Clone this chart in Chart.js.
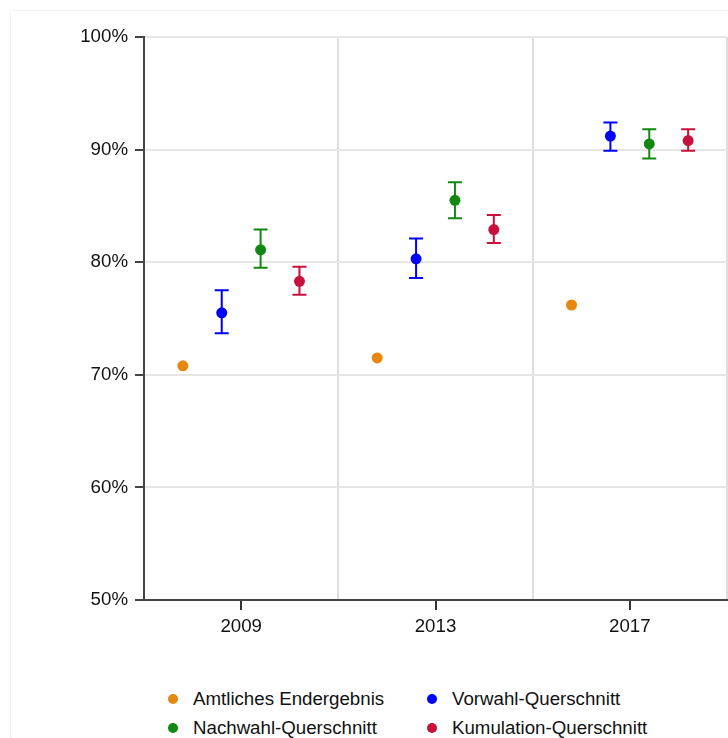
<!DOCTYPE html>
<html>
<head>
<meta charset="utf-8">
<script src="https://cdn.jsdelivr.net/npm/chart.js@4"></script>
<style>
  html, body { margin: 0; background: #fff; font-family: "Liberation Sans", Arial, sans-serif; overflow: hidden; width: 728px; height: 738px; }
  #frame { position: absolute; left: 10px; top: 10px; width: 740px; height: 760px; border: 1px solid #f3f3f3; }
  #wrap { position: absolute; left: 0; top: 0; width: 733px; height: 640px; }
  #legend { position: absolute; left: 0; top: 684px; width: 728px; color: #111; font-size: 18.7px; }
  .item { position: absolute; height: 29px; line-height: 29px; white-space: nowrap; }
  .dot { position: absolute; width: 10px; height: 10px; border-radius: 50%; top: 9.5px; }
  .item span { position: absolute; left: 25px; }
</style>
</head>
<body>
<div id="frame"></div>
<div id="wrap"><canvas id="chart" width="733" height="640"></canvas></div>
<div id="legend"></div>
<script>
const years = ['2009', '2013', '2017']
const seriesNames = ['Amtliches Endergebnis', 'Vorwahl-Querschnitt', 'Nachwahl-Querschnitt', 'Kumulation-Querschnitt']
const seriesColors = ['#e8870e', '#0000ff', '#118811', '#c8103c']
const xOffsets = [-0.3, -0.1, 0.1, 0.3]

const amtlich = [70.8, 71.5, 76.2]
const vorwahl = [75.5, 80.3, 91.2]
const vorwahlLow = [73.7, 78.6, 89.9]
const vorwahlHigh = [77.5, 82.1, 92.4]
const nachwahl = [81.1, 85.5, 90.5]
const nachwahlLow = [79.5, 83.9, 89.2]
const nachwahlHigh = [82.9, 87.1, 91.8]
const kumulation = [78.3, 82.9, 90.8]
const kumulationLow = [77.1, 81.7, 89.9]
const kumulationHigh = [79.6, 84.2, 91.8]
const yTicks = [50, 60, 70, 80, 90, 100]

const values = [amtlich, vorwahl, nachwahl, kumulation]
const lows = [null, vorwahlLow, nachwahlLow, kumulationLow]
const highs = [null, vorwahlHigh, nachwahlHigh, kumulationHigh]

// error bars, drawn under the points
const errorBars = {
    id: 'errorBars',
    beforeDatasetsDraw(chart) {
        const ctx = chart.ctx
        const xs = chart.scales.x, ys = chart.scales.y
        chart.data.datasets.forEach((ds, i) => {
            if (!ds.low) return
            ctx.save()
            ctx.strokeStyle = ds.borderColor
            ctx.lineWidth = 2
            ds.low.forEach((lo, j) => {
                const x = xs.getPixelForValue(ds.data[j].x)
                const y1 = ys.getPixelForValue(lo)
                const y2 = ys.getPixelForValue(ds.high[j])
                ctx.beginPath()
                ctx.moveTo(x, y1); ctx.lineTo(x, y2)
                ctx.moveTo(x - 7, y1); ctx.lineTo(x + 7, y1)
                ctx.moveTo(x - 7, y2); ctx.lineTo(x + 7, y2)
                ctx.stroke()
            })
            ctx.restore()
        })
    }
}

const datasets = seriesNames.map((name, i) => ({
    label: name,
    data: values[i].map((v, j) => ({x: j + xOffsets[i], y: v})),
    low: lows[i],
    high: highs[i],
    backgroundColor: seriesColors[i],
    borderColor: seriesColors[i],
    pointRadius: 5.5,
    pointBorderWidth: 0,
    showLine: false
}))

const isInt = v => Math.abs(v - Math.round(v)) < 1e-6

new Chart(document.getElementById('chart'), {
    type: 'scatter',
    data: { datasets: datasets },
    plugins: [errorBars],
    options: {
        responsive: false,
        animation: false,
        devicePixelRatio: 1,
        layout: { padding: { top: 37, right: 0, left: 0, bottom: 0 } },
        plugins: { legend: { display: false }, tooltip: { enabled: false } },
        scales: {
            x: {
                type: 'linear',
                min: -0.5,
                max: 2.5,
                afterFit: s => { s.height = 40 },
                ticks: {
                    stepSize: 0.5,
                    autoSkip: false,
                    maxRotation: 0,
                    padding: 6,
                    color: '#111',
                    font: { family: 'Liberation Sans', size: 18.7 },
                    callback: v => isInt(v) ? years[Math.round(v)] : ''
                },
                grid: {
                    lineWidth: 2,
                    tickLength: 10,
                    tickWidth: 2,
                    color: c => (isInt(c.tick.value) || c.tick.value < 0) ? 'rgba(0,0,0,0)' : '#dedede',
                    tickColor: c => isInt(c.tick.value) ? '#333' : 'rgba(0,0,0,0)'
                },
                border: { color: '#444', width: 2 }
            },
            y: {
                min: 50,
                max: 100,
                afterFit: s => { s.width = 144 },
                afterBuildTicks: s => { s.ticks = yTicks.map(v => ({value: v})) },
                ticks: {
                    padding: 7,
                    color: '#111',
                    font: { family: 'Liberation Sans', size: 18.7 },
                    callback: v => v + '%'
                },
                grid: {
                    lineWidth: 2,
                    tickLength: 9,
                    tickWidth: 2,
                    color: '#e6e6e6',
                    tickColor: '#444'
                },
                border: { color: '#444', width: 2 }
            }
        }
    }
})

// legend, two columns
const legendPos = [[168, 0], [427, 0], [168, 29], [427, 29]]
const legend = document.getElementById('legend')
seriesNames.forEach((name, i) => {
    const item = document.createElement('div')
    item.className = 'item'
    item.style.left = legendPos[i][0] + 'px'
    item.style.top = legendPos[i][1] + 'px'
    item.innerHTML = '<div class="dot" style="background:' + seriesColors[i] + '"></div><span>' + name + '</span>'
    legend.appendChild(item)
})
</script>
</body>
</html>
